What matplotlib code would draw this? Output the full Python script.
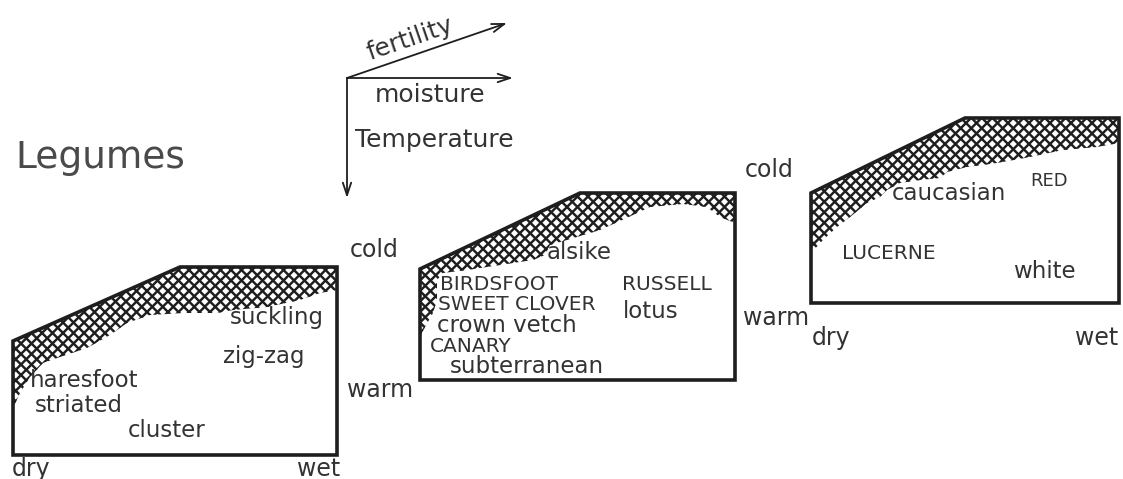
import numpy as np
import matplotlib.pyplot as plt
from matplotlib.patches import Polygon
from matplotlib.collections import LineCollection

plt.rcParams['font.family'] = ['DejaVu Sans']

INK = '#1e1e1e'
TXT = '#333333'

# panel outlines (pixel coords): bottom-left, top-left, slope corner, top-right, bottom-right
panel_x = [[13, 13, 180, 337, 337],
           [420, 420, 580, 735, 735],
           [811, 811, 965, 1119, 1119]]
panel_y = [[455, 341, 267, 267, 455],
           [380, 269, 193, 193, 380],
           [303, 193, 118, 118, 303]]

# lower edge of the cross-hatched zone, left edge -> right edge
hatch_x = [[13, 20, 30, 43, 60, 87, 110, 127, 150, 183, 217, 233, 267, 300, 320, 337],
           [420, 425, 433, 437, 437, 443, 467, 500, 533, 545, 550, 567, 600, 633, 650, 683, 707, 720, 735],
           [811, 823, 837, 850, 867, 880, 887, 900, 920, 940, 947, 967, 997, 1030, 1063, 1097, 1119]]
hatch_y = [[408, 393, 377, 363, 357, 348, 335, 323, 315, 313, 313, 310, 307, 300, 293, 290],
           [337, 327, 313, 300, 280, 273, 270, 265, 260, 255, 245, 240, 230, 215, 207, 204, 207, 217, 223],
           [253, 240, 227, 217, 203, 197, 190, 183, 180, 178, 172, 167, 163, 157, 150, 147, 143]]

# species names: (text, x, baseline y)
species_lower = [('suckling', 230, 324), ('zig-zag', 223, 363), ('haresfoot', 30, 387),
                 ('striated', 35, 412), ('cluster', 128, 437),
                 ('alsike', 547, 259), ('crown vetch', 437, 332), ('subterranean', 450, 373),
                 ('lotus', 623, 318),
                 ('caucasian', 892, 200), ('white', 1013, 278)]
species_upper = [('BIRDSFOOT', 440, 290), ('SWEET CLOVER', 438, 310), ('CANARY', 430, 352),
                 ('RUSSELL', 622, 290), ('LUCERNE', 842, 259), ('RED', 1030, 186)]

# scale words round the panels
scale_words = [('dry', 12, 476), ('wet', 297, 476), ('cold', 350, 257), ('warm', 347, 397),
               ('cold', 745, 177), ('warm', 743, 325), ('dry', 812, 345), ('wet', 1075, 345)]

# key arrows: origin and tips
key_origin = (347, 78)
key_tips = [(507, 23), (513, 78), (347, 198)]

fig = plt.figure(figsize=(11.23, 4.79), dpi=100)
ax = fig.add_axes([0, 0, 1, 1])
ax.set_xlim(0, 1123)
ax.set_ylim(479, 0)
ax.axis('off')

pitch = 10.5
for px, py, hx, hy in zip(panel_x, panel_y, hatch_x, hatch_y):
    top = list(zip(px[1:4], py[1:4]))
    inner = list(zip(hx, hy))[::-1]
    zone = Polygon([inner[-1]] + top + inner, closed=True, facecolor='none',
                   edgecolor='none')
    ax.add_patch(zone)
    x0, x1 = min(px) - 5, max(px) + 5
    segs = []
    for c in np.arange(-1200, 1700, pitch):
        segs.append([(x0, x0 + c), (x1, x1 + c)])
        segs.append([(x0, -x0 + c), (x1, -x1 + c)])
    lc = LineCollection(segs, colors=INK, linewidths=1.75)
    ax.add_collection(lc)
    lc.set_clip_path(zone)
    ax.add_patch(Polygon(list(zip(px, py)), closed=True, fill=False,
                         edgecolor=INK, lw=2.6, joinstyle='miter'))

for s, x, y in species_lower:
    ax.text(x, y, s, fontsize=16.5, color=TXT, ha='left', va='baseline')
for s, x, y in species_upper:
    ax.text(x, y, s, fontsize=14.5 if s != 'RED' else 13, color=TXT, ha='left', va='baseline')
for s, x, y in scale_words:
    ax.text(x, y, s, fontsize=17, color=TXT, ha='left', va='baseline')

for tip in key_tips:
    ax.annotate('', xy=tip, xytext=key_origin,
                arrowprops=dict(arrowstyle='->,head_length=0.9,head_width=0.3',
                                lw=1.3, color=INK, shrinkA=0, shrinkB=0))

ax.text(412, 46, 'fertility', fontsize=18, color=TXT, rotation=19,
        rotation_mode='anchor', ha='center', va='baseline')
ax.text(375, 102, 'moisture', fontsize=18, color=TXT, ha='left', va='baseline')
ax.text(355, 147, 'Temperature', fontsize=18, color=TXT, ha='left', va='baseline')
ax.text(15, 168, 'Legumes', fontsize=27, color='#4a4a4a', ha='left', va='baseline')

fig.savefig('out.png', dpi=100)
